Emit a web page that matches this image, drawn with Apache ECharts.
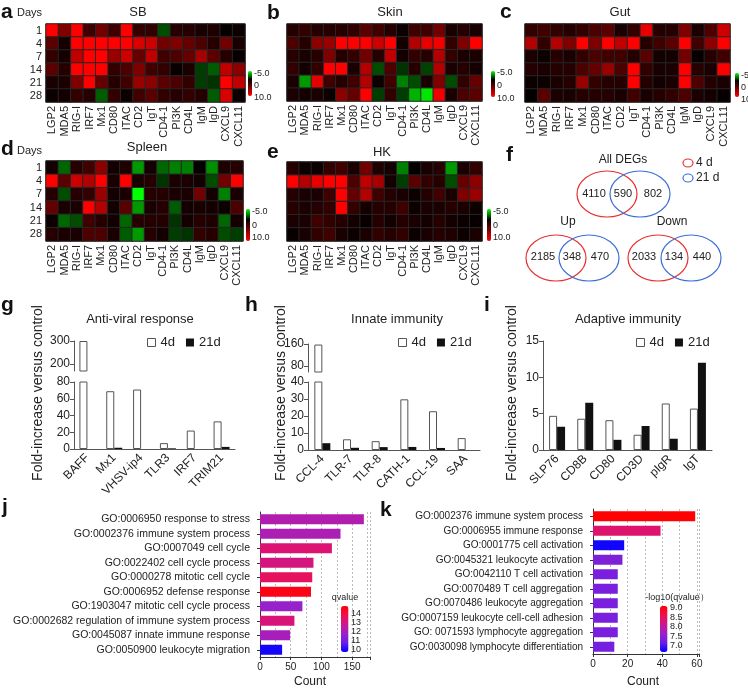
<!DOCTYPE html>
<html>
<head>
<meta charset="utf-8">
<script src="https://cdn.jsdelivr.net/npm/echarts@6/dist/echarts.min.js"></script>
<style>
html, body { margin: 0; padding: 0; background: #fff; }
#chart { width: 748px; height: 689px; }
</style>
</head>
<body>
<div id="chart"></div>
<script>
const FONT = '"Liberation Sans", Arial, sans-serif'

// ---- heatmaps (a-e) ----
const genes = ['LGP2', 'MDA5', 'RIG-I', 'IRF7', 'Mx1', 'CD80', 'ITAC', 'CD2', 'IgT', 'CD4-1', 'PI3K', 'CD4L', 'IgM', 'IgD', 'CXCL9', 'CXCL11']
const days = ['1', '4', '7', '14', '21', '28']

const sbValues = [
  [10, 5, 10, 2.5, 4.5, 2.5, 10, 2, 2, -1.5, 1.5, 1.5, 1, 1.2, 0.2, 0.5],
  [3.5, 0.8, 10, 10, 10, 10, 10, 8.5, 8, 4.5, 5, 4, 3, 1.5, 4.5, 1],
  [2, 0.8, 7.5, 10, 10, 6, 8, 4, 7.5, 2.5, 3, 4, 6.5, 3.5, 1.5, 0.3],
  [3.5, 1.5, 10, 10, 10, 2, 3, 5, 2.5, 2, 0.3, 1, -1.2, -1.8, 7.5, 5.5],
  [1, 1, 5, 10, 4, 1.5, 2.5, 6, 5.5, 3.5, 3, 2, -1.2, -1, 10, 7.5],
  [0.5, 0.8, 2, 1.5, -1.8, 2, 0.5, 2.5, 3.5, 2, 1.5, 2, 1.5, -1.8, 8.5, 0.5]
]
const skinValues = [
  [1.5, 2, 1.5, 1.5, 1.5, 2, 3.5, 2.5, 1.5, 0.5, 2.5, 2.5, 4.5, 1, 1.5, 1],
  [3, 1.5, 5.5, 6, 10, 10, 10, 8, 10, 0.8, 7, 9, 9.5, 2, 5, 10],
  [1.5, 1, 1.5, 5, 1.5, 2, 4.5, 1.5, 7.5, 0.8, 2, 1.5, 7, 2, 1, 1],
  [2, 0.8, 2, 10, 10, 1, 7, -1.5, 3, -1, 1.5, -1.3, 7, 1, 1.5, 0.8],
  [1, -3, 9, 2.5, 1.5, 2.5, 7, 0.5, 2.5, -2.5, -1.5, 1, 5, -1.5, 2, 4],
  [1, 0.8, 1, 0.5, 5.5, 4, 10, -1.2, 2, -1.2, -3.5, -4.5, 9.5, 1, 3, 3.5]
]
const gutValues = [
  [2, 2.5, 2, 1.5, 2, 3, 3.5, 1, 2, 9, 1.5, 1.5, 5, 1, 3, 8],
  [7, 2, 7, 5, 10, 5, 10, 7.5, 10, 1.5, 2.5, 3.5, 10, 2.5, 5.5, 10],
  [1, 0.5, 1.5, 1, 2, 3, 2.5, 2.5, 1.5, 3.5, 0.8, 0.8, 4.5, 0.3, 1.5, 2.5],
  [1.5, 1, 1.5, 1.5, 3, 4, 6, 3, 10, 2, 1, 1, 10, 1.5, 1, 10],
  [0.5, 0.5, 1, 1.5, 6, 2, 1.5, 1.5, 10, 1.5, 0.8, 1, 10, 3, 1.5, 1],
  [0.2, 3.5, 1, 1, 1.5, 1.5, 1.5, 1, 2.5, 1, 1.5, 2, 3, 1, 0.8, 0.3]
]
const spleenValues = [
  [0.8, -2, 1.5, 2.5, 5.5, 0.8, 1.2, -3, 0.8, -2, -2.5, -2.5, 0.2, -2.8, 1.2, 1.5],
  [10, 3.5, 8, 7, 10, 1, 10, 1, 1.5, -1, 1, 1, 0.8, -1.5, 4.5, 10],
  [1.5, -1.5, 1.5, 2, 6, 0.8, 1, -5, 1.5, 1.5, 1, 1, 4.5, 0.8, -2.5, 1],
  [4, 1, 1, 10, 7, 0.8, 3.5, -3, 1, 1.5, -1.8, 0.8, 1, 0.8, 0.5, 3],
  [0.5, -2, -1.5, 2.5, 1.5, 0.8, -2, 1.5, 1.5, 1.5, -1, 0.8, 1.5, 1.2, -2, 0.8],
  [1.5, 1, 1, 3, 3, 1, -1.8, -3, 1.5, 0.8, -1.2, -1, 2, 1.5, -1.5, -1.2]
]
const hkValues = [
  [1.5, 0.5, 0.5, 2, 2.5, 1, 4.5, 1.2, 0.8, -2.5, 0.2, 1, 1.5, -3, 1, 2],
  [10, 7, 9, 10, 10, 3, 7.5, 6.5, 0.8, -1.2, 3.5, 2, 1.5, -1.5, 4, 5.5],
  [1.5, 1, 1, 2.5, 10, 4, 7, 2.5, 1.5, 1, 0.5, 1.5, 2.5, 1, 5, 6],
  [1.5, 1, 1.5, 2, 10, 2, 0.8, 1.5, 1.5, 2.5, 0.5, 1, 1, 1.5, 1, 0.5],
  [1, 1, 2.5, 2, 1.5, 0.8, 0.3, 1.5, 0.8, 1.5, 1, 0.8, 1.5, 0.8, 0.5, 0.3],
  [0.3, 1, 2, 2.5, 1, 0.5, 1, 2, 1.5, 2, 0.5, 1, 1.5, 1.2, 0.5, 1]
]
const heatTicks = ['-5.0', '0', '10.0']

// ---- venn (f) ----
const vennAll = [4110, 590, 802]
const vennUp = [2185, 348, 470]
const vennDown = [2033, 134, 440]

// ---- bar charts (g-i) ----
const antiViralCats = ['BAFF', 'Mx1', 'VHSV-ip4', 'TLR3', 'IRF7', 'TRIM21']
const antiViral4d = [300, 69, 71, 7, 22, 33]
const antiViral21d = [0, 1.5, 0, 0.8, 0, 2.5]
const innateCats = ['CCL-4', 'TLR-7', 'TLR-8', 'CATH-1', 'CCL-19', 'SAA']
const innate4d = [158, 6.3, 5.2, 29.8, 22.8, 7]
const innate21d = [4, 1.3, 1.7, 1.8, 1.2, 0]
const adaptiveCats = ['SLP76', 'CD8B', 'CD80', 'CD3D', 'pIgR', 'IgT']
const adaptive4d = [4.7, 4.3, 4.1, 2.1, 6.4, 5.7]
const adaptive21d = [3.2, 6.5, 1.4, 3.3, 1.55, 12]

// ---- GO enrichment (j, k) ----
const goTermsJ = ['GO:0006950 response to stress', 'GO:0002376 immune system process', 'GO:0007049 cell cycle',
  'GO:0022402 cell cycle process', 'GO:0000278 mitotic cell cycle', 'GO:0006952 defense response',
  'GO:1903047 mitotic cell cycle process', 'GO:0002682 regulation of immune system process',
  'GO:0045087 innate immune response', 'GO:0050900 leukocyte migration']
const goCountJ = [169, 131, 117, 87, 85, 83, 69, 56, 49, 36]
const goQJ = [12.3, 12.2, 13.3, 13.1, 13.6, 14.6, 11.8, 13.2, 12.1, 10.0]
const qTicksJ = [14, 13, 12, 11, 10]

const goTermsK = ['GO:0002376 immune system process', 'GO:0006955 immune response', 'GO:0001775 cell activation',
  'GO:0045321 leukocyte activation', 'GO:0042110 T cell activation', 'GO:0070489 T cell aggregation',
  'GO:0070486 leukocyte aggregation', 'GO:0007159 leukocyte cell-cell adhesion',
  'GO: 0071593 lymphocyte aggregation', 'GO:0030098 lymphocyte differentiation']
const goCountK = [59, 39, 18, 17, 14.3, 14.3, 14.3, 14.3, 14.3, 12.3]
const goQK = [9.1, 8.4, 6.8, 7.4, 7.35, 7.35, 7.35, 7.35, 7.35, 7.3]
const qTicksK = ['9.0', '8.5', '8.0', '7.5', '7.0']

const HEAT_COLORS = ['#00ff00', '#000000', '#800000', '#ff0000']
const GO_COLORS = ['#0000ff', '#6b1ee6', '#9a22c8', '#cc1690', '#f0104c', '#ff0000']

const grid = [], xAxis = [], yAxis = [], series = [], visualMap = [], legend = [], graphic = []

function txt(x, y, text, size, opts = {}) {
  graphic.push({
    type: 'text', x, y, rotation: opts.rotation || 0, silent: true,
    style: {
      text, fill: opts.color || '#222',
      font: (opts.bold ? 'bold ' : '') + size + 'px ' + FONT,
      align: opts.align || 'center', verticalAlign: 'middle',
      textAlign: opts.align || 'center', textVerticalAlign: 'middle'
    }
  })
}

function ellipse(cx, cy, rx, ry, color) {
  graphic.push({ type: 'ellipse', silent: true, shape: { cx, cy, rx, ry }, style: { fill: 'none', stroke: color, lineWidth: 1.2 } })
}

function addHeatmap(values, box, bar, showRows) {
  const gi = grid.length
  grid.push({ left: box.x, top: box.y, width: box.w, height: box.h, show: true, borderColor: '#999', borderWidth: 1 })
  xAxis.push({
    type: 'category', gridIndex: gi, data: genes,
    axisLine: { show: false }, axisTick: { show: false }, splitLine: { show: false },
    axisLabel: { rotate: 90, interval: 0, fontSize: 11, color: '#222', margin: 4 }
  })
  yAxis.push({
    type: 'category', gridIndex: gi, data: days, inverse: true,
    axisLine: { show: false }, axisTick: { show: false }, splitLine: { show: false },
    axisLabel: { show: showRows, interval: 0, fontSize: 11, color: '#222', margin: 4 }
  })
  const data = []
  values.forEach((row, r) => row.forEach((v, c) => data.push([c, r, v])))
  const si = series.length
  series.push({
    type: 'heatmap', xAxisIndex: gi, yAxisIndex: gi, data,
    itemStyle: { borderColor: '#262626', borderWidth: 1 }, emphasis: { disabled: true }
  })
  visualMap.push({
    type: 'continuous', seriesIndex: si, min: -5, max: 10, inverse: true, calculable: false,
    left: bar.x, top: bar.y, itemWidth: 4, itemHeight: bar.h, padding: 0, hoverLink: false,
    inRange: { color: HEAT_COLORS }
  })
  heatTicks.forEach((t, i) => txt(bar.x + 6, bar.labels[i], t, 9, { align: 'left' }))
}

function addBars(gi, v4, v21) {
  series.push({
    type: 'bar', name: '4d', xAxisIndex: gi, yAxisIndex: gi, data: v4, barWidth: 8, barGap: '0%',
    itemStyle: { color: '#fff', borderColor: '#555', borderWidth: 1 }
  })
  series.push({
    type: 'bar', name: '21d', xAxisIndex: gi, yAxisIndex: gi, data: v21, barWidth: 8, barGap: '0%',
    itemStyle: { color: '#111' }
  })
}

function addBarPanel(cats, v4, v21, p) {
  const yStyle = {
    axisLine: { show: true, lineStyle: { color: '#555' } },
    axisTick: { show: true, length: 4, lineStyle: { color: '#555' } },
    splitLine: { show: false }
  }
  let gi = grid.length
  grid.push({ left: p.left, width: p.width, top: p.lower.top, height: p.lower.height })
  xAxis.push({
    type: 'category', gridIndex: gi, data: cats,
    axisLine: { lineStyle: { color: '#555' } }, axisTick: { show: false },
    axisLabel: { rotate: 45, interval: 0, fontSize: 12, color: '#222', margin: 7 }
  })
  yAxis.push(Object.assign({
    type: 'value', gridIndex: gi, min: 0, max: p.lower.max, interval: p.lower.interval,
    axisLabel: { fontSize: 12, color: '#222', margin: 4 }
  }, yStyle))
  addBars(gi, v4, v21)
  if (p.upper) {
    gi = grid.length
    grid.push({ left: p.left, width: p.width, top: p.upper.top, height: p.upper.height })
    xAxis.push({ type: 'category', gridIndex: gi, data: cats, show: false })
    yAxis.push(Object.assign({}, yStyle, {
      type: 'value', gridIndex: gi, min: p.upper.min, max: p.upper.max,
      axisLabel: { fontSize: 12, color: '#222', margin: 4, customValues: p.upper.ticks },
      axisTick: { show: true, length: 4, lineStyle: { color: '#555' }, customValues: p.upper.ticks }
    }))
    addBars(gi, v4, v21)
  }
  legend.push({
    left: p.legendX, top: 336, padding: 0, itemWidth: 8, itemHeight: 8, itemGap: 11,
    selectedMode: false, icon: 'rect', textStyle: { fontSize: 13, color: '#222' },
    data: [
      { name: '4d', itemStyle: { color: '#fff', borderColor: '#555', borderWidth: 1 } },
      { name: '21d', itemStyle: { color: '#111', borderWidth: 0 } }
    ]
  })
  txt(p.titleX, 319, p.title, 13)
  txt(p.nameX, 393, 'Fold-increase versus control', 14, { rotation: Math.PI / 2 })
}

function addGoPanel(terms, counts, qs, p) {
  const gi = grid.length
  grid.push({ left: p.left, top: p.top, width: p.width, height: p.height })
  const xi = xAxis.length
  xAxis.push({
    type: 'value', gridIndex: gi, min: 0, max: p.max, interval: p.minor,
    axisLine: { show: true, lineStyle: { color: '#333' } }, axisTick: { show: false },
    axisLabel: { fontSize: 10, color: '#222', margin: 5, formatter: v => (v % p.major === 0 ? String(v) : '') },
    splitLine: { show: true, lineStyle: { color: '#aaa', type: [2, 2], width: 0.8 } }
  })
  xAxis.push({
    type: 'value', gridIndex: gi, position: 'bottom', min: 0, max: p.max, interval: p.major,
    axisLine: { show: false }, axisLabel: { show: false }, splitLine: { show: false },
    axisTick: { show: true, length: 3, lineStyle: { color: '#333' } }
  })
  const yi = yAxis.length
  yAxis.push({
    type: 'category', gridIndex: gi, data: terms, inverse: true, offset: 5,
    axisLine: { show: true, lineStyle: { color: '#333' } },
    axisTick: { show: true, length: 3, alignWithLabel: true, lineStyle: { color: '#333' } },
    axisLabel: { fontSize: p.labelSize, color: '#222', margin: 5, interval: 0 }
  })
  const si = series.length
  series.push({
    type: 'bar', xAxisIndex: xi, yAxisIndex: yi, barWidth: 10,
    data: terms.map((t, i) => [counts[i], t, qs[i]]), encode: { x: 0, y: 1 }
  })
  visualMap.push({
    type: 'continuous', seriesIndex: si, dimension: 2, min: p.qmin, max: p.qmax, calculable: false,
    left: p.barX, top: p.barY, itemWidth: 7.5, itemHeight: 46, padding: 0, hoverLink: false,
    inRange: { color: GO_COLORS }
  })
  txt(p.legendTitleX, 598, p.legendTitle, 9)
  p.ticks.forEach((t, i) => txt(p.barX + 10, p.tickY[i], String(t), 9, { align: 'left' }))
  txt(p.countX, 682, 'Count', 12)
}

// heatmaps
addHeatmap(sbValues, { x: 46, y: 24, w: 199, h: 78 }, { x: 248, y: 71, h: 25, labels: [74, 86, 98] }, true)
addHeatmap(skinValues, { x: 287, y: 24, w: 195, h: 77 }, { x: 491, y: 71, h: 26, labels: [73, 86, 99] }, false)
addHeatmap(gutValues, { x: 525, y: 24, w: 205, h: 78 }, { x: 735, y: 73, h: 24, labels: [76, 88, 100] }, false)
addHeatmap(spleenValues, { x: 46, y: 161, w: 197, h: 80 }, { x: 246, y: 209, h: 32, labels: [212, 226, 238] }, true)
addHeatmap(hkValues, { x: 287, y: 162, w: 195, h: 79 }, { x: 487, y: 209, h: 32, labels: [212, 226, 238] }, false)

txt(138, 12, 'SB', 13)
txt(390, 12, 'Skin', 13)
txt(620, 12, 'Gut', 13)
txt(147, 147, 'Spleen', 13)
txt(382, 152, 'HK', 13)
txt(17, 13, 'Days', 11, { align: 'left' })
txt(17, 151, 'Days', 11, { align: 'left' })

// venn
ellipse(607, 194, 30, 23, '#e8312f'); ellipse(640, 194, 30, 23, '#3a6fd8')
ellipse(556, 258, 30, 23, '#e8312f'); ellipse(589, 258, 30, 23, '#3a6fd8')
ellipse(658, 258, 30, 23, '#e8312f'); ellipse(691, 258, 30, 23, '#3a6fd8')
ellipse(688, 163, 5, 4, '#e8312f'); ellipse(688, 178, 5, 4, '#3a6fd8')
txt(696, 163, '4 d', 12, { align: 'left' })
txt(696, 178, '21 d', 12, { align: 'left' })
txt(623, 160, 'All DEGs', 12)
txt(568, 222, 'Up', 12)
txt(672, 222, 'Down', 12)
;[594, 623, 653].forEach((x, i) => txt(x, 194, String(vennAll[i]), 11))
;[543, 572, 600].forEach((x, i) => txt(x, 257, String(vennUp[i]), 11))
;[644, 674, 702].forEach((x, i) => txt(x, 257, String(vennDown[i]), 11))

// bar panels
addBarPanel(antiViralCats, antiViral4d, antiViral21d, {
  left: 74, width: 161,
  lower: { top: 382, height: 67, max: 80, interval: 20 },
  upper: { top: 341, height: 30, min: 170, max: 300, ticks: [200, 300] },
  legendX: 147, title: 'Anti-viral response', titleX: 140, nameX: 38
})
addBarPanel(innateCats, innate4d, innate21d, {
  left: 308, width: 172,
  lower: { top: 382, height: 68, max: 40, interval: 10 },
  upper: { top: 344, height: 28, min: 58, max: 160, ticks: [80, 160] },
  legendX: 398, title: 'Innate immunity', titleX: 397, nameX: 281
})
addBarPanel(adaptiveCats, adaptive4d, adaptive21d, {
  left: 543, width: 169,
  lower: { top: 341, height: 109, max: 15, interval: 5 },
  legendX: 636, title: 'Adaptive immunity', titleX: 628, nameX: 512
})

// GO panels
addGoPanel(goTermsJ, goCountJ, goQJ, {
  left: 260, top: 512, width: 110, height: 145, max: 179, minor: 25, major: 50, labelSize: 10.5,
  qmin: 9.8, qmax: 14.9, barX: 341, barY: 606, legendTitle: 'qvalue', legendTitleX: 345,
  ticks: qTicksJ, tickY: [614, 623, 632, 641, 650], countX: 310
})
addGoPanel(goTermsK, goCountK, goQK, {
  left: 593, top: 509, width: 106, height: 145, max: 61.2, minor: 10, major: 20, labelSize: 10,
  qmin: 6.72, qmax: 9.12, barX: 660, barY: 606, legendTitle: '-log10(qvalue\uff09', legendTitleX: 677,
  ticks: qTicksK, tickY: [608, 617.5, 627, 636.5, 646], countX: 643
})

// panel letters
;[['a', 1, 12], ['b', 267, 13], ['c', 500, 12], ['d', 1, 149], ['e', 267, 152], ['f', 506, 155],
  ['g', 1, 305], ['h', 245, 305], ['i', 484, 305], ['j', 2, 507], ['k', 380, 510]]
  .forEach(([l, x, y]) => txt(x, y, l, 21, { bold: true, align: 'left', color: '#111' }))

const chart = echarts.init(document.getElementById('chart'), null, { renderer: 'canvas' })
chart.setOption({
  animation: false,
  backgroundColor: '#fff',
  textStyle: { fontFamily: FONT },
  grid, xAxis, yAxis, series, visualMap, legend, graphic
})
</script>
</body>
</html>
